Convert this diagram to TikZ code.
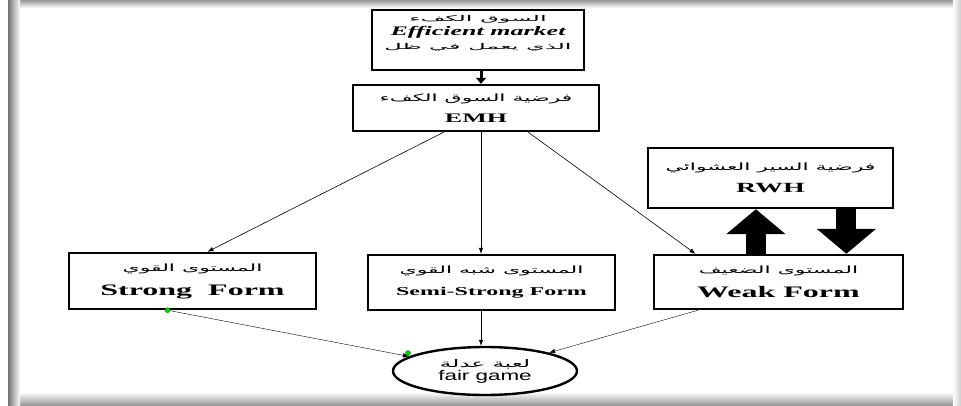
\documentclass[tikz,border=0pt]{standalone}
\usepackage{fontspec}
\setmainfont{Liberation Serif}
\newfontfamily\enwide[FakeStretch=2.0]{Liberation Serif}
\newfontfamily\sanswide[FakeStretch=1.6]{Liberation Sans}
\newfontfamily\arfont[Script=Arabic,FakeStretch=2.2]{DejaVu Sans}
\newfontfamily\arnarrow[Script=Arabic,FakeStretch=3.0]{DejaVu Sans}
\TeXXeTstate=1
\usetikzlibrary{arrows.meta,positioning,calc,shapes.geometric}
\tikzset{
  formbox/.style={
    draw,
    line width=2.4pt,
    align=center,
    inner sep=2pt
  },
  thinarrow/.style={-{Latex[length=6pt,width=4.5pt]},line width=0.6pt},
  linkarrow/.style={-{Triangle[length=6pt,width=10pt]},line width=3pt},
  blockarrow/.style={-{Triangle[length=25pt,width=58pt]},line width=20pt},
  handle/.style={circle,fill=green!85!black,draw=green!40!black,line width=0.3pt,
    inner sep=0pt,minimum size=5pt}
}
\newcommand{\artext}[2][10]{{\fontsize{#1}{#1}\arfont\beginR #2\endR}}
\newcommand{\artop}[1]{{\fontsize{8}{8}\arnarrow\beginR #1\endR}}
\newcommand{\entext}[2]{{\fontsize{#1}{#1}\enwide\bfseries #2}}

\begin{document}
\begin{tikzpicture}[x=1pt,y=-1pt]
  % frame
  \useasboundingbox (0,0) rectangle (961,405);
  \fill[white] (0,0) rectangle (961,405);
  \shade[top color=gray!80,bottom color=white] (8,0) rectangle (961,8);
  \shade[top color=white,bottom color=gray!80] (8,392) rectangle (961,405);
  \shade[left color=gray!90!black,right color=white] (8,0) rectangle (20,405);
  \shade[left color=white,right color=gray!40] (953,0) rectangle (961,405);

  \coordinate (spine) at (481,0);

  % boxes
  \node[formbox,minimum width=212pt,minimum height=60pt] (mkt) at (478,40)
    {\artop{السوق الكفء}\\[2pt]
     {\fontsize{13}{13}\enwide\bfseries\itshape Efficient market}\\[2pt]
     \artop{الذي يعمل في ظل}\\[4pt]\mbox{}};
  \node[formbox,minimum width=246pt,minimum height=46pt] (emh) at (476,108)
    {\artext{فرضية السوق الكفء}\\[9pt]\entext{13}{EMH}};
  \node[formbox,minimum width=247pt,minimum height=56pt] (strong) at (192.5,281)
    {\artext{المستوى القوي}\\[10pt]\entext{16}{Strong\ \ Form}};
  \node[formbox,minimum width=247pt,minimum height=55pt] (semi) at (491.5,282.5)
    {\artext{المستوى شبه القوي}\\[10pt]\entext{12}{Semi-Strong Form}};
  \node[formbox,minimum width=249pt,minimum height=54pt] (weak) at (778.5,282)
    {\artext{المستوى الضعيف}\\[10pt]\entext{16}{Weak Form}};
  \node[formbox,minimum width=245pt,minimum height=60pt] (rwh) at (770.5,178)
    {\artext{فرضية السير العشوائي}\\[10pt]\entext{14}{RWH}};
  \node[ellipse,draw,line width=2.4pt,align=center,inner sep=0pt,
    minimum width=184pt,minimum height=48pt] (fair) at (485,371)
    {\artext[10.5]{لعبة عدلة}\\[1pt]{\fontsize{14}{14}\sanswide fair game}};

  % connectors
  \draw[linkarrow] (mkt.south -| spine) -- (emh.north -| spine);
  \draw[thinarrow] ($(emh.south west)!0.37!(emh.south east)$) --
    ($(strong.north west)!0.56!(strong.north east)$);
  \draw[thinarrow] (emh.south -| spine) -- (semi.north -| spine);
  \draw[thinarrow] ($(emh.south west)!0.71!(emh.south east)$) --
    ($(weak.north west)!0.17!(weak.north east)$);

  \coordinate (sfoot) at ($(strong.south west)!0.40!(strong.south east)$);
  \coordinate (wfoot) at ($(weak.south west)!0.18!(weak.south east)$);
  \draw[thinarrow,line width=0.4pt] (sfoot) -- (fair);
  \draw[thinarrow] (semi.south -| spine) -- (fair.north -| spine);
  \draw[thinarrow,line width=0.4pt] (wfoot) -- (fair);

  % block arrows between weak form and RWH
  \coordinate (upx) at ($(weak.north west)!0.41!(weak.north east)$);
  \coordinate (downx) at ($(weak.north west)!0.77!(weak.north east)$);
  \draw[blockarrow] (upx) -- (upx |- rwh.south);
  \draw[blockarrow] (downx |- rwh.south) -- (downx);

  % handles
  \node[handle] (h1) at (sfoot) {};
  \node[handle] (h2) at (408,353) {};
\end{tikzpicture}
\end{document}
